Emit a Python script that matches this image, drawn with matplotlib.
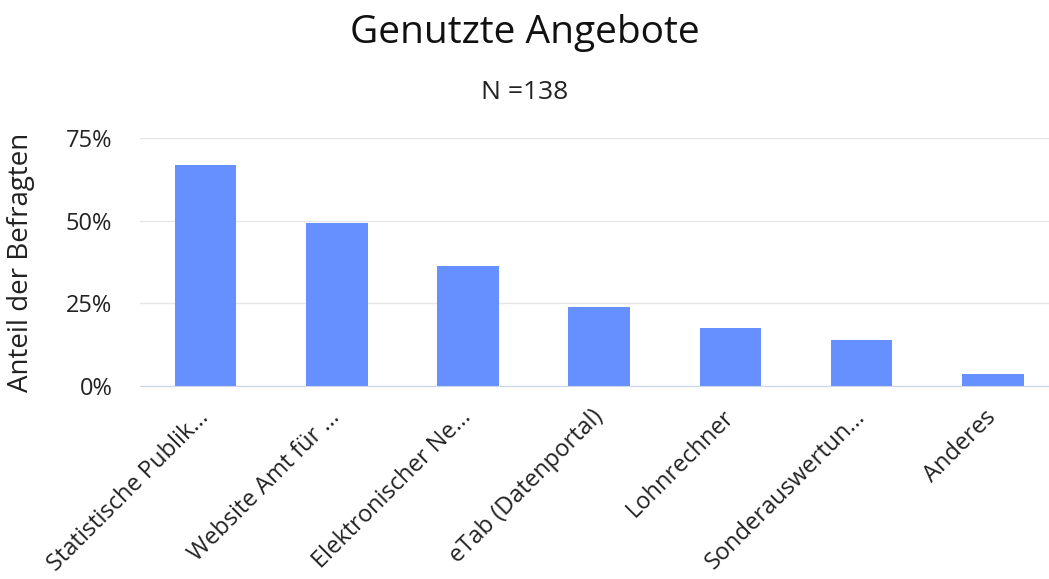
"""Genutzte Angebote: share of respondents per offering."""

import matplotlib.pyplot as plt
from matplotlib.ticker import PercentFormatter

plt.rcParams["font.family"] = ["Open Sans", "DejaVu Sans"]

CATEGORIES = [
    "Statistische Publik...",
    "Website Amt für ...",
    "Elektronischer Ne...",
    "eTab (Datenportal)",
    "Lohnrechner",
    "Sonderauswertun...",
    "Anderes",
]
SHARES = [0.667, 0.493, 0.362, 0.239, 0.174, 0.138, 0.036]
Y_TICKS = [0, 0.25, 0.5, 0.75]

BAR_COLOR = "#668fff"
TEXT_COLOR = "#222222"


def main() -> None:
    fig = plt.figure(figsize=(10.49, 5.79), dpi=100)
    ax = fig.add_axes([0.1335, 0.3333, 0.873, 0.4283])

    x = list(range(len(CATEGORIES)))
    ax.bar(x, SHARES, width=0.47, color=BAR_COLOR, zorder=3)

    ax.set_xlim(-0.5, 6.48)
    ax.set_ylim(0, 0.75)
    ax.set_yticks(Y_TICKS)
    ax.yaxis.set_major_formatter(PercentFormatter(1.0, decimals=0))
    ax.grid(axis="y", color="#e6e6e6", linewidth=1, zorder=0)

    for side in ("top", "right", "left"):
        ax.spines[side].set_visible(False)
    ax.spines["bottom"].set_color("#ccd6eb")
    ax.spines["bottom"].set_zorder(4)

    ax.tick_params(axis="y", length=0, pad=20, labelsize=17, labelcolor=TEXT_COLOR)
    ax.tick_params(axis="x", length=0, pad=20, labelsize=17, labelcolor=TEXT_COLOR)
    ax.set_xticks(x)
    ax.set_xticklabels(CATEGORIES, rotation=45, ha="right", va="center",
                       rotation_mode="anchor")

    ax.set_ylabel("Anteil der Befragten", fontsize=20, color=TEXT_COLOR)
    ax.yaxis.set_label_coords(-0.115, 0.5)

    fig.text(0.5, 0.943, "Genutzte Angebote", ha="center", va="center",
             fontsize=28, color="#111111")
    fig.text(0.5, 0.841, "N =138", ha="center", va="center",
             fontsize=19, color=TEXT_COLOR)

    fig.savefig("out.png", dpi=100)
    plt.close(fig)


if __name__ == "__main__":
    main()
